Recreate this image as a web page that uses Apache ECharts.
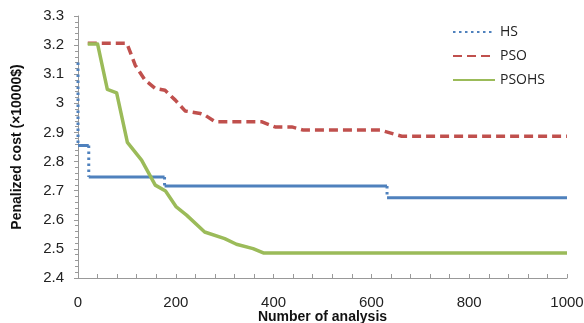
<!DOCTYPE html>
<html><head><meta charset="utf-8">
<script src="https://cdn.jsdelivr.net/npm/echarts@6/dist/echarts.min.js"></script>
<style>html,body{margin:0;padding:0;background:#fff}#c{width:584px;height:323px}</style>
</head><body><div id="c"></div>
<script>
// HS: step changes
var hsStartValue = 3.14;
var hsChangeX = [0, 22, 177, 632, 1000];
var hsLevel = [2.855, 2.747, 2.716, 2.676];
// PSO
var psoX = [20, 100, 117, 137, 158, 178, 199, 219, 250, 259, 280, 375, 403, 437, 461, 618, 662, 1000];
var psoY = [3.206, 3.206, 3.131, 3.080, 3.051, 3.045, 3.011, 2.974, 2.965, 2.960, 2.937, 2.937, 2.919, 2.919, 2.908, 2.908, 2.887, 2.887];
// PSOHS
var psohsX = [20, 40, 60, 79, 101, 130, 158, 179, 201, 222, 259, 300, 324, 358, 379, 1000];
var psohsY = [3.204, 3.204, 3.048, 3.036, 2.866, 2.805, 2.719, 2.699, 2.644, 2.616, 2.558, 2.535, 2.516, 2.501, 2.486, 2.486];
// axes
var xTicks = [0, 200, 400, 600, 800, 1000];
var yTicks = [2.4, 2.5, 2.6, 2.7, 2.8, 2.9, 3.0, 3.1, 3.2, 3.3];

// vertical drops (dotted) and horizontal runs (solid)
var hsDotted = [];
var hsSolid = [];
var prev = hsStartValue;
for (var i = 0; i < hsLevel.length; i++) {
  if (i > 0) { hsDotted.push([hsChangeX[i], '-']); hsSolid.push([hsChangeX[i], '-']); }
  hsDotted.push([hsChangeX[i], prev]);
  hsDotted.push([hsChangeX[i], hsLevel[i]]);
  hsSolid.push([hsChangeX[i], hsLevel[i]]);
  hsSolid.push([hsChangeX[i + 1], hsLevel[i]]);
  prev = hsLevel[i];
}
function zip(a, b) { return a.map(function (v, k) { return [v, b[k]]; }); }

var blue = '#4F81BD', red = '#C0504D', green = '#9BBB59';
var chart = echarts.init(document.getElementById('c'), null, {renderer: 'canvas'});
chart.setOption({
  animation: false,
  backgroundColor: '#fff',
  grid: {left: 78, right: 17, top: 16, bottom: 45, containLabel: false, outerBoundsMode: 'none'},
  legend: {
    orient: 'vertical', left: 447, top: 20, itemWidth: 42, itemHeight: 14, itemGap: 10,
    itemStyle: {opacity: 0},
    textStyle: {fontFamily: 'Open Sans', fontSize: 14, color: '#222'},
    data: ['HS', 'PSO', 'PSOHS']
  },
  xAxis: {
    type: 'value', min: 0, max: 1000, interval: 200,
    name: 'Number of analysis', nameLocation: 'middle', nameGap: 32, nameMoveOverlap: false,
    nameTextStyle: {fontFamily: 'Liberation Sans', fontWeight: 'bold', fontSize: 14, color: '#111'},
    axisLine: {lineStyle: {color: '#999', width: 1}},
    axisTick: {show: true, inside: true, length: 4, lineStyle: {color: '#999'}},
    minorTick: {show: true, splitNumber: 5, length: 4, lineStyle: {color: '#999'}},
    axisLabel: {fontFamily: 'Liberation Sans', fontSize: 15, color: '#222', margin: 17,
      customValues: xTicks, formatter: function (v) { return String(v); }},
    splitLine: {show: false}
  },
  yAxis: {
    type: 'value', min: 2.4, max: 3.3, interval: 0.1,
    name: 'Penalized cost (\u00d710000$)', nameLocation: 'middle', nameGap: 54, nameMoveOverlap: false,
    nameTextStyle: {fontFamily: 'Liberation Sans', fontWeight: 'bold', fontSize: 14, color: '#111'},
    axisLine: {show: true, lineStyle: {color: '#999', width: 1}},
    axisTick: {show: true, length: 4, lineStyle: {color: '#999'}},
    minorTick: {show: true, splitNumber: 5, length: 3, lineStyle: {color: '#999'}},
    axisLabel: {fontFamily: 'Liberation Sans', fontSize: 15, color: '#222', margin: 14,
      formatter: function (v) { return String(+v.toFixed(1)); }},
    splitLine: {show: false}
  },
  series: [
    {name: 'HS', type: 'line', data: hsDotted, symbol: 'none', z: 3, connectNulls: false,
     lineStyle: {color: blue, width: 3, type: [2.5, 3.5]}, itemStyle: {color: blue}},
    {name: 'HS', type: 'line', data: hsSolid, symbol: 'none', z: 3, connectNulls: false,
     lineStyle: {color: blue, width: 3}, itemStyle: {color: blue}},
    {name: 'PSO', type: 'line', data: zip(psoX, psoY), symbol: 'none', z: 2,
     lineStyle: {color: red, width: 3.5, type: [9, 5]}, itemStyle: {color: red}},
    {name: 'PSOHS', type: 'line', data: zip(psohsX, psohsY), symbol: 'none', z: 4,
     lineStyle: {color: green, width: 3.5, join: 'round'}, itemStyle: {color: green}}
  ]
});
</script></body></html>
